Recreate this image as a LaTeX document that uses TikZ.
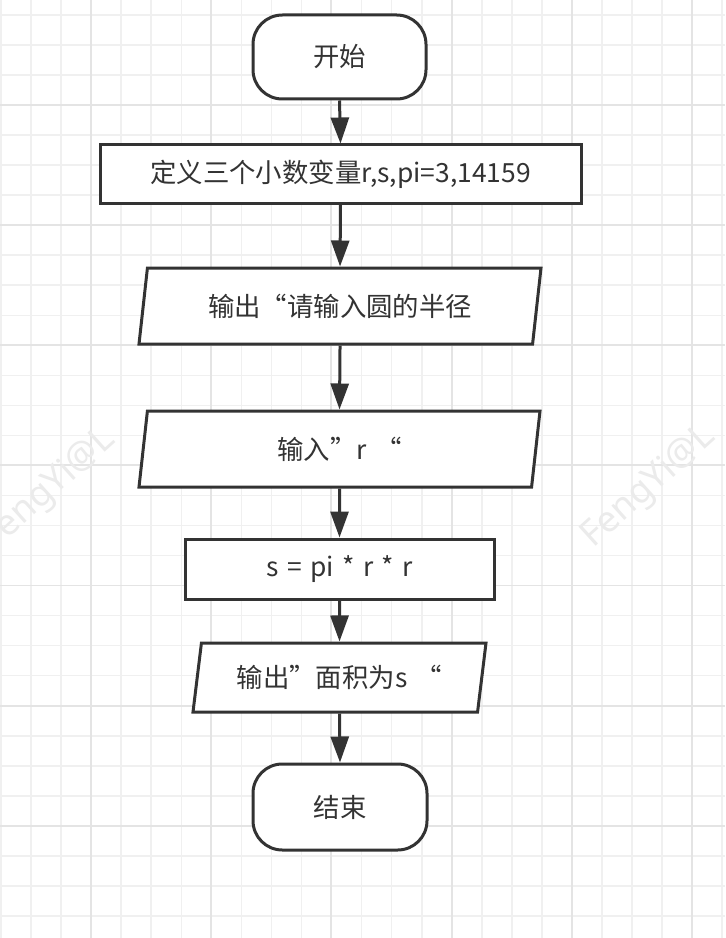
\documentclass[tikz,border=0pt]{standalone}
\usepackage{fontspec}
\setmainfont{Noto Sans CJK SC}
\newfontfamily\wmfont{Noto Sans}
\usetikzlibrary{shapes.geometric,arrows.meta}
\definecolor{ink}{HTML}{333333}
\definecolor{gridminor}{HTML}{F0F0F0}
\definecolor{gridmajor}{HTML}{E4E4E4}
\definecolor{wm}{HTML}{EBEBEB}
\newcommand\myflowfont{\fontsize{19.8}{23}\selectfont\spaceskip=0.32em plus 0.1em\relax}
\tikzset{
  base/.style={draw=ink, line width=2.25pt, text=ink, font=\myflowfont, inner sep=0pt, fill=white},
  term/.style={base, rectangle, rounded corners=22pt},
  proc/.style={base, rectangle},
  io/.style={base, trapezium, trapezium left angle=71, trapezium right angle=109, trapezium stretches body},
  flow/.style={draw=ink, line width=2.25pt, -{Triangle[length=19.5pt, width=13.5pt]}},
  watermark/.style={text=wm, font=\wmfont\fontsize{27}{30}\selectfont, rotate=42}
}
\begin{document}
\begin{tikzpicture}[x=0.75pt, y=-0.75pt]
\useasboundingbox (0,0) rectangle (725,938);
\fill[white] (0,0) rectangle (725,938);
% grid
\foreach \i in {0,...,24} {
  \draw[gridminor, line width=1.2pt] ({1+30.05*\i},0) -- ({1+30.05*\i},938);
}
\foreach \j in {0,...,31} {
  \draw[gridminor, line width=1.2pt] (0,{15+30.03*\j}) -- (725,{15+30.03*\j});
}
\foreach \i in {0,...,6} {
  \draw[gridmajor, line width=1.4pt] ({91+120.2*\i},0) -- ({91+120.2*\i},938);
}
\foreach \j in {0,...,7} {
  \draw[gridmajor, line width=1.4pt] (0,{-15+120.1*\j}) -- (725,{-15+120.1*\j});
}
% watermarks
\node[watermark] (wm1) at (649,487) {FengYi@L};
\node[watermark] (wm2) at (49,490) {FengYi@L};
% nodes
\node[term, minimum width=129.75pt, minimum height=63pt] (start) at (339.5,57) {开始};
\node[proc, minimum width=360.75pt, minimum height=43.5pt] (def) at (340.5,174) {定义三个小数变量r,s,pi=3,14159};
\node[io, minimum width=301.5pt, minimum height=57pt] (out1) at (340,306) {输出“请输入圆的半径};
\node[io, minimum width=300.75pt, minimum height=57pt] (in1) at (339.5,449) {输入”r “};
\node[proc, minimum width=231.75pt, minimum height=45pt] (calc) at (339.5,569) {s = pi * r * r};
\node[io, minimum width=219.75pt, minimum height=51.75pt] (out2) at (339.5,677.5) {输出”面积为s “};
\node[term, minimum width=130.5pt, minimum height=64.5pt] (end) at (340,807) {结束};
% connectors
\draw[flow] (start.south) -- (def.north);
\draw[flow] (def.south) -- (out1.north);
\draw[flow] (out1.south) -- (in1.north);
\draw[flow] (in1.south) -- (calc.north);
\draw[flow] (calc.south) -- (out2.north);
\draw[flow] (out2.south) -- (end.north);
\end{tikzpicture}
\end{document}
